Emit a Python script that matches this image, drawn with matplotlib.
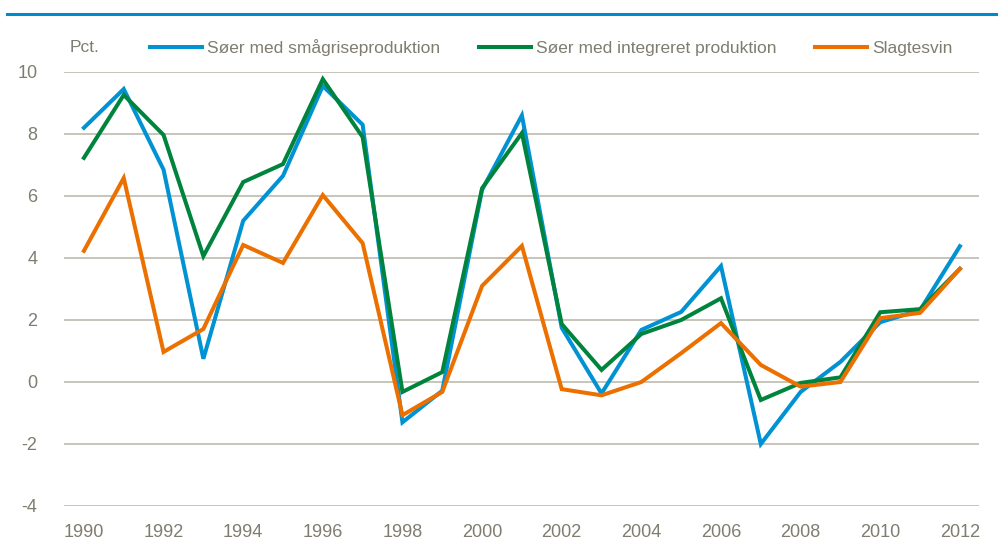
import matplotlib.pyplot as plt
from matplotlib.lines import Line2D

# years on the x axis
years = list(range(1990, 2013))

# Søer med smågriseproduktion
smaagris = [8.2, 9.45, 6.85, 0.75, 5.2, 6.65, 9.55, 8.3, -1.3, -0.28, 6.2, 8.6,
            1.75, -0.37, 1.68, 2.26, 3.74, -2.0, -0.32, 0.65, 1.93, 2.32, 4.38]
# Søer med integreret produktion
integreret = [7.23, 9.26, 7.97, 4.06, 6.45, 7.03, 9.77, 7.9, -0.32, 0.32, 6.25, 8.03,
              1.87, 0.39, 1.55, 2.0, 2.7, -0.58, -0.03, 0.15, 2.25, 2.35, 3.65]
# Slagtesvin
slagtesvin = [4.23, 6.58, 0.97, 1.71, 4.42, 3.84, 6.03, 4.48, -1.07, -0.32, 3.1, 4.39,
              -0.23, -0.43, 0.0, 0.93, 1.9, 0.55, -0.15, 0.0, 2.06, 2.23, 3.65]

labels = ['Søer med smågriseproduktion', 'Søer med integreret produktion', 'Slagtesvin']
colors = ['#0092d2', '#00843d', '#ec7000']
text_color = '#7f7c70'
grid_color = '#b8b5a6'

plt.rcParams['font.family'] = ['Liberation Sans', 'DejaVu Sans']
plt.rcParams['axes.unicode_minus'] = False

fig = plt.figure(figsize=(9.98, 5.43), dpi=100)
ax = fig.add_axes([64 / 998, 37 / 543, 915 / 998, 434 / 543])

# thin blue rule at the top of the figure
fig.add_artist(Line2D([7 / 998, 1.0], [1 - 14 / 543, 1 - 14 / 543], color='#0089cc', lw=2.2))

handles = []
for series, label, color in zip([smaagris, integreret, slagtesvin], labels, colors):
    line, = ax.plot(years, series, color=color, lw=2.9, label=label,
                    solid_joinstyle='miter', clip_on=False, zorder=3)
    handles.append(line)

ax.set_xlim(1989.5, 2012.48)
ax.set_ylim(-4, 10)
ax.set_xticks(range(1990, 2013, 2))
ax.set_yticks(range(-4, 11, 2))
ax.yaxis.grid(True, color=grid_color, lw=1.1)
ax.set_axisbelow(True)
for side in ['left', 'right', 'top', 'bottom']:
    ax.spines[side].set_visible(False)
ax.tick_params(axis='both', length=0, labelsize=13, labelcolor=text_color)
ax.tick_params(axis='y', pad=19)
ax.tick_params(axis='x', pad=13)

fig.text(70 / 998, 1 - 48 / 543, 'Pct.', fontsize=12.5, color=text_color, va='center', ha='left')

leg = fig.legend(handles=handles, loc='center left', bbox_to_anchor=(150 / 998, 1 - 48 / 543),
                 ncol=3, frameon=False, fontsize=12.5, handlelength=3.0, handletextpad=0.3,
                 columnspacing=2.2, borderaxespad=0, borderpad=0)
for t in leg.get_texts():
    t.set_color(text_color)

fig.savefig('out.png', dpi=100)
